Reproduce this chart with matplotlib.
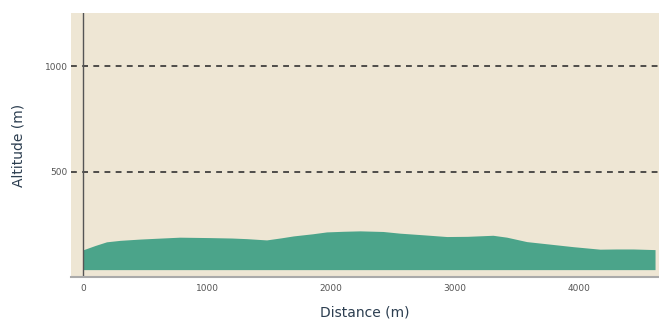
import matplotlib
matplotlib.use("Agg")
import matplotlib.pyplot as plt

distance = [0, 100, 190, 300, 460, 600, 780, 1024, 1200, 1320, 1480, 1600, 1697, 1850, 1965, 2100, 2234, 2420, 2556, 2750, 2933, 3100, 3306, 3417, 3578, 3750, 3952, 4169, 4300, 4436, 4613]
altitude = [129, 150, 167, 174, 180, 184, 189, 187, 185, 182, 176, 186, 195, 205, 214, 217, 219, 216, 208, 200, 192, 193, 198, 189, 168, 157, 144, 132, 133, 133, 130]
ref_lines = [500, 1000]
x_ticks = [0, 1000, 2000, 3000, 4000]
y_ticks = [500, 1000]
baseline = 35

fig = plt.figure(figsize=(6.59, 3.19), dpi=100)
ax = fig.add_axes([71/659, 1 - 277/319, 1 - 71/659, (277 - 13)/319])
ax.set_facecolor("#EEE6D4")

ax.fill_between(distance, altitude, baseline, color="#4BA48A", linewidth=0)
for v in ref_lines:
    ax.axhline(v, color="#333333", linestyle=(0, (3.5, 3.2)), linewidth=1.2)
ax.axvline(0, color="#555555", linewidth=1.0)

ax.set_xlim(-97, 4645)
ax.set_ylim(0, 1253)
ax.set_xticks(x_ticks)
ax.set_yticks(y_ticks)
ax.tick_params(length=0, labelsize=6.5, labelcolor="#555555")
ax.tick_params(axis="x", pad=5)
ax.tick_params(axis="y", pad=2.5)

for s in ["top", "right", "left"]:
    ax.spines[s].set_visible(False)
ax.spines["bottom"].set_color("#AAAAAA")
ax.spines["bottom"].set_linewidth(1.5)

ax.set_xlabel("Distance (m)", fontsize=10, color="#2C3E50", labelpad=9)
ax.set_ylabel("Altitude (m)", fontsize=10, color="#2C3E50", labelpad=14)

fig.savefig("out.png", dpi=100)
